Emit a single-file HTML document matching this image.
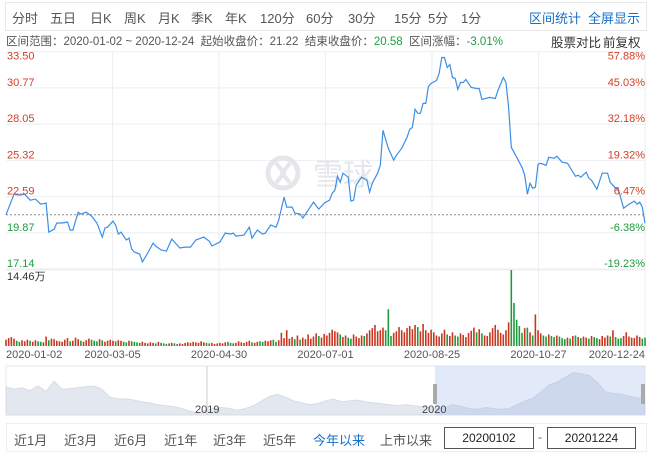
<!DOCTYPE html>
<html><head><meta charset="utf-8"><style>
body{margin:0;width:654px;height:458px;background:#fff;font-family:"Liberation Sans","Noto Sans CJK SC",sans-serif;overflow:hidden;position:relative}
.t{position:absolute;white-space:nowrap}
</style></head><body>
<div style="position:absolute;left:5px;top:2px;width:642px;height:29px;border:1px solid #e8e8e8;box-sizing:border-box"></div>
<div id="tabs"></div>
<div class="t" style="left:6px;top:33px;font-size:11.5px;color:#555">区间范围：2020-01-02 ~ 2020-12-24&nbsp;&nbsp;起始收盘价：21.22&nbsp;&nbsp;结束收盘价：<span style="color:#1ba041">20.58</span>&nbsp;&nbsp;区间涨幅：<span style="color:#1ba041">-3.01%</span></div>
<div class="t" style="left:551px;top:32px;font-size:12.5px;color:#333">股票对比</div>
<div class="t" style="left:603px;top:32px;font-size:12.5px;color:#333">前复权</div>
<svg id="chart" width="654" height="458" style="position:absolute;left:0;top:0"></svg>
<div style="position:absolute;left:6px;top:423px;width:641px;height:29px;border:1px solid #eee;box-sizing:border-box"></div>
<div id="btns"></div>
<div class="t" style="left:444px;top:427px;width:90px;height:22px;border:1px solid #555;box-sizing:border-box;font-size:12px;text-align:center;line-height:20px;color:#222">20200102</div>
<div class="t" style="left:538px;top:430px;font-size:12px;color:#555">-</div>
<div class="t" style="left:547px;top:427px;width:89px;height:22px;border:1px solid #555;box-sizing:border-box;font-size:12px;text-align:center;line-height:20px;color:#222">20201224</div>
<script>
const tabLabels=["分时","五日","日K","周K","月K","季K","年K","120分","60分","30分","15分","5分","1分"];
const tabX=[12,50,90,124,158,191,225,260,306,348,394,428,461];
const tabs=document.getElementById('tabs');
tabLabels.forEach((l,i)=>{const d=document.createElement('div');d.className='t';d.style.cssText=`left:${tabX[i]}px;top:8px;font-size:13px;color:#555`;d.textContent=l;


tabs.appendChild(d);});
[["区间统计",529],["全屏显示",588]].forEach(([l,x],i)=>{const d=document.createElement('div');d.className='t';d.style.cssText=`left:${x}px;top:8px;font-size:13px;color:#1a6fc4`;d.textContent=l;


tabs.appendChild(d);});
const btnLabels=["近1月","近3月","近6月","近1年","近3年","近5年","今年以来","上市以来"];
const btnX=[14,64,114,164,213,263,313,380];
const btns=document.getElementById('btns');
btnLabels.forEach((l,i)=>{const d=document.createElement('div');d.className='t';d.style.cssText=`left:${btnX[i]}px;top:430px;font-size:13px;color:${i==6?'#1a6fc4':'#555'}`;d.textContent=l;


btns.appendChild(d);});

const priceDays=[0,3,5,7,9,11,13,15,16,18,19,21,23,24,25,27,28,30,32,34,36,37,38,40,41,42,43,45,46,47,48,50,51,53,55,56,58,60,62,65,67,69,71,74,76,77,80,82,84,85,86,89,91,92,94,96,97,99,101,102,104,105,107,108,110,111,113,115,117,119,121,122,123,124,125,126,128,129,130,131,133,135,136,137,139,140,141,143,145,146,148,150,151,152,153,154,155,156,157,158,159,161,162,163,164,165,166,167,168,169,170,171,172,174,176,177,178,181,183,184,186,187,188,189,191,193,194,195,196,197,198,199,200,202,203,205,206,208,210,213,214,215,217,218,219,221,223,225,226,228,229,231,233,235,236,237,238,239];
const prices=[21.22,22.77,22.70,22.77,22.32,22.40,22.02,22.10,19.92,20.14,20.60,20.60,20.67,20.07,20.07,21.42,21.27,21.42,21.12,20.60,19.54,20.22,20.29,20.75,20.45,19.77,19.92,19.32,19.47,18.64,18.42,18.27,17.67,18.34,19.09,18.87,18.57,18.49,19.39,18.72,18.79,18.79,19.32,19.54,19.24,18.87,19.17,19.84,19.77,19.84,19.62,19.69,20.29,19.47,20.07,19.77,19.84,20.45,20.29,20.82,22.55,21.80,21.80,21.35,21.27,20.97,21.57,22.17,21.65,22.10,22.32,22.85,23.07,24.12,23.67,24.35,24.05,22.25,22.32,23.45,24.05,23.82,22.92,23.60,24.35,24.95,27.58,26.23,25.33,25.70,26.23,27.05,27.65,27.80,29.16,28.86,28.86,29.61,29.61,30.88,31.11,31.33,31.86,33.06,33.06,32.31,32.54,31.56,31.48,30.66,31.18,31.18,31.41,30.81,30.73,30.73,29.91,30.06,29.98,30.58,31.56,31.18,29.31,26.30,25.55,24.80,24.20,22.77,23.60,23.22,23.30,25.03,25.10,24.95,25.55,25.48,25.63,25.18,25.10,24.12,24.20,24.05,24.43,23.97,23.82,23.15,24.35,24.35,23.67,23.22,23.15,21.72,22.02,22.25,22.02,22.17,21.80,20.58];
const volumes=[1.2,1.5,1.7,1.4,1.0,0.8,1.1,0.9,1.2,1.0,0.8,1.1,0.9,0.8,0.7,1.8,1.1,1.4,1.3,1.0,
0.9,0.8,1.2,1.5,0.9,1.0,1.6,1.3,1.0,0.8,1.1,1.4,1.2,1.0,0.9,1.3,1.1,0.8,1.0,1.2,
1.0,0.9,1.1,1.0,0.8,0.7,1.0,0.9,0.8,0.7,0.6,0.8,0.6,0.5,0.7,0.6,0.5,0.8,0.6,0.5,
0.4,0.5,0.6,0.5,0.4,0.5,0.4,0.6,0.7,0.6,0.8,0.7,0.6,0.9,0.7,0.6,0.5,0.6,0.4,0.5,
0.6,0.5,0.7,0.8,0.6,0.5,0.6,0.9,0.7,0.6,0.8,1.0,0.7,0.6,0.8,0.9,0.8,1.0,0.9,1.1,
1.2,0.8,1.1,2.5,1.5,3.0,1.4,1.7,1.3,2.0,1.2,1.6,1.3,2.2,1.4,1.8,2.4,1.9,1.6,2.3,
2.0,2.5,3.1,2.8,2.6,2.2,1.7,2.0,1.6,1.4,2.2,1.8,1.5,2.0,1.9,2.4,3.0,3.4,4.0,2.8,
3.0,3.5,3.0,7.0,1.9,2.5,2.8,3.6,3.0,2.6,3.4,3.8,3.2,4.0,3.6,2.8,4.2,3.0,2.5,3.1,
2.6,2.0,1.8,2.4,3.1,2.2,1.9,2.6,2.0,1.8,2.4,2.1,1.7,2.5,2.9,3.5,2.6,3.2,2.4,2.0,
1.9,2.6,3.4,4.0,3.1,2.5,2.2,3.0,4.5,14.46,8.2,5.0,3.8,2.5,3.4,3.5,2.6,2.0,6.0,3.0,
2.4,2.0,1.8,2.2,1.9,1.7,2.0,1.8,1.5,1.3,1.6,1.4,1.9,2.0,1.7,1.5,1.8,1.6,1.4,1.9,
1.7,1.5,1.3,1.9,1.6,2.0,1.8,3.0,1.7,1.4,1.5,1.9,2.6,1.8,1.6,1.5,2.0,1.7,1.4,1.6];
const priceTicks=["33.50","30.77","28.05","25.32","22.59","19.87","17.14"];
const pctTicks=["57.88%","45.03%","32.18%","19.32%","6.47%","-6.38%","-19.23%"];
const dateLabels=["2020-01-02","2020-03-05","2020-04-30","2020-07-01","2020-08-25","2020-10-27","2020-12-24"];
const navValues=[60,55,58,52,62,50,72,55,56,58,60,62,55,38,35,34,32,28,26,22,20,18,14,8,4,10,14,16,14,10,14,20,30,40,44,38,30,26,22,24,30,34,28,30,32,28,26,24,22,20,22,20,18,16,14,16,22,18,14,12,16,14,12,14,22,30,36,50,64,70,80,90,88,84,70,50,46,44,40,36,38];

const NS='http://www.w3.org/2000/svg',svg=document.getElementById('chart');
function mk(t,a,p){const e=document.createElementNS(NS,t);for(const k in a)e.setAttribute(k,a[k]);(p||svg).appendChild(e);return e;}
const X0=6,X1=645,ND=240,PMIN=17.14,PMAX=33.50,YT=51.7,YB=269,BASE=21.22;
const xs=d=>X0+d*(X1-X0)/(ND-1);
const ys=p=>YB-(p-PMIN)/(PMAX-PMIN)*(YB-YT);
const VT=270,VB=346,VMAX=14.46;
const yv=v=>VB-v/VMAX*(VB-VT);

for(let i=0;i<7;i++){const y=YT+i*(YB-YT)/6;const l=mk('line',{x1:X0,x2:X1,y1:y,y2:y,stroke:'#eceef2'});}
for(let i=1;i<6;i++){const x=X0+i*(X1-X0)/6;const l=mk('line',{x1:x,x2:x,y1:YT,y2:VB,stroke:'#eceef2'});}
mk('line',{x1:X0,x2:X1,y1:VT,y2:VT,stroke:'#eceef2'});
mk('line',{x1:X1,x2:X1,y1:YT,y2:VB,stroke:'#eceef2'});
const wm=mk('g',{opacity:0.9});
mk('circle',{cx:283,cy:173,r:15,fill:'none',stroke:'#e2e4e8','stroke-width':5},wm);
mk('path',{d:'M276 163 L284 173 L276 183 M290 163 L282 173 L290 183',fill:'none',stroke:'#e2e4e8','stroke-width':4},wm);
const wt=mk('text',{x:313,y:185,'font-size':30,fill:'#e2e4e8','font-family':'Noto Sans CJK SC, sans-serif'},wm);wt.textContent='雪球';
const bl=mk('line',{x1:X0,x2:X1,y1:ys(BASE),y2:ys(BASE),stroke:'#888','stroke-dasharray':'2,2'});
function priceAt(d){for(let i=1;i<priceDays.length;i++){if(d<=priceDays[i]){const a=priceDays[i-1],b=priceDays[i];return prices[i-1]+(prices[i]-prices[i-1])*(d-a)/(b-a);}}return prices[prices.length-1];}
volumes.forEach((v,d)=>{const up=d==0||priceAt(d)>=priceAt(d-1)||(v>=volumes[d-1]*1.15&&v<5);const x=xs(d);const r=mk('rect',{x:x-0.8,y:yv(v),width:1.6,height:VB-yv(v),fill:up?'#c8361f':'#1e9c3c'});

});
const pl=mk('polyline',{points:prices.map((p,i)=>xs(priceDays[i]).toFixed(1)+','+ys(p).toFixed(1)).join(' '),fill:'none',stroke:'#3c8fe4','stroke-width':1.2});

priceTicks.forEach((t,i)=>{const y=YT+i*(YB-YT)/6;const e=mk('text',{x:7,y:y+(i==0?8:-2),'font-size':11,fill:i<5?'#d0402a':'#1e9c3c'});e.textContent=t;
});
pctTicks.forEach((t,i)=>{const y=YT+i*(YB-YT)/6;const e=mk('text',{x:645,y:y+(i==0?8:-2),'font-size':11,fill:i<5?'#d0402a':'#1e9c3c','text-anchor':'end'});e.textContent=t;
});
const vm=mk('text',{x:7,y:280,'font-size':11,fill:'#333'});vm.textContent='14.46万';
dateLabels.forEach((t,i)=>{const x=X0+i*(X1-X0)/6;const e=mk('text',{x:x,y:358,'font-size':11,fill:'#555','text-anchor':i==0?'start':i==6?'end':'middle'});e.textContent=t;
});
const NT=366,NB=415;
mk('rect',{x:X0,y:NT,width:X1-X0,height:NB-NT,fill:'#fff',stroke:'#e6e8ec'});
const nx=i=>X0+i*(X1-X0)/(navValues.length-1), ny=v=>NB-v/100*(NB-NT-2);
const na=mk('path',{d:'M'+X0+','+NB+' '+navValues.map((v,i)=>'L'+nx(i).toFixed(1)+','+ny(v).toFixed(1)).join(' ')+' L'+X1+','+NB+'Z',fill:'#e3e7ef',stroke:'#d3d8e2','stroke-width':0.8});

mk('line',{x1:207,x2:207,y1:NT,y2:NB,stroke:'#ccc'});
const sel=mk('rect',{x:435,y:NT,width:X1-435,height:NB-NT,fill:'rgba(150,180,235,0.28)'});
[435,643].forEach(x=>{const h=mk('rect',{x:x-2,y:384,width:4,height:20,fill:'#aaa'});});
[["2019",195],["2020",422]].forEach(([t,x])=>{const e=mk('text',{x:x,y:413,'font-size':11,fill:'#444'});e.textContent=t;});
</script>
</body></html>
